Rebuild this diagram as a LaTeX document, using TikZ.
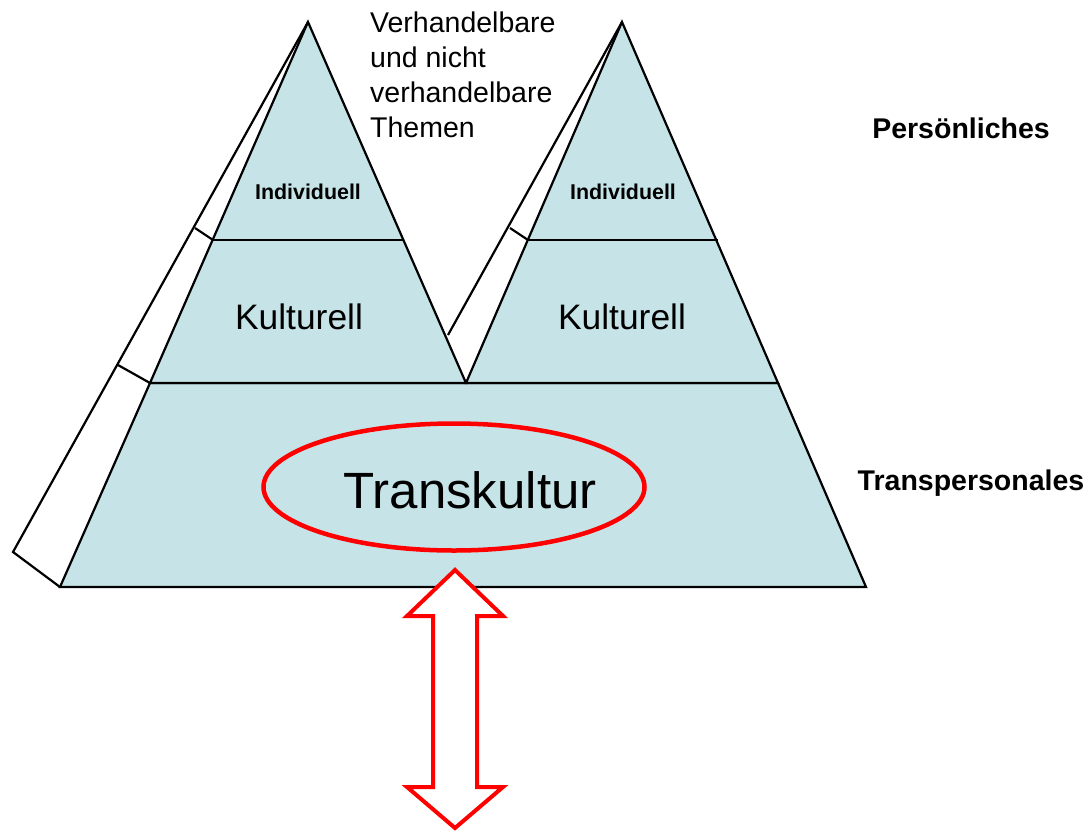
\documentclass[tikz,border=0pt]{standalone}
\usepackage{fontspec}
\setmainfont{Liberation Sans}
\usepackage{tikz}
\usetikzlibrary{shapes.geometric}

\definecolor{pyrblue}{RGB}{198,228,232}

\begin{document}
\begin{tikzpicture}[x=1pt, y=-1pt,
  layer/.style={draw, fill=pyrblue, line width=2.2pt, line join=miter},
  strip/.style={draw, line width=2.2pt},
  big/.style={font=\fontsize{35.4}{42}\selectfont, inner sep=0pt},
  small/.style={font=\bfseries\fontsize{21.4}{26}\selectfont, inner sep=0pt},
  side/.style={font=\bfseries\fontsize{28.5}{34}\selectfont, inner sep=0pt},
  ring/.style={ellipse, draw=red, line width=4.5pt, minimum width=381pt, minimum height=127pt, inner sep=0pt},
  updown/.style={draw=red, fill=white, line width=4pt, line join=miter}]
\useasboundingbox (0,0) rectangle (1089,833);

\coordinate (apexL) at (308,22);
\coordinate (apexR) at (622,22);
\coordinate (baseL) at (60,587);
\coordinate (baseR) at (866,587);
\coordinate (midL) at (150,383);
\coordinate (midR) at (778,383);
\coordinate (valley) at (466,383);
\coordinate (indLl) at (213,240);
\coordinate (indLr) at (403,240);
\coordinate (indRl) at (528,240);
\coordinate (indRr) at (718,240);

% side strips
\coordinate (outL) at (13,552);
\coordinate (outR) at (448,335);
\draw[strip] (apexL) -- (outL) -- (baseL);
\draw[strip] (118,365) -- (midL);
\draw[strip] (195,228) -- (indLl);
\draw[strip] (apexR) -- (outR);
\draw[strip] (510,228) -- (indRl);

% pyramids
\path[layer] (baseL) -- (baseR) -- (midR) -- (midL) -- cycle;
\path[layer] (apexL) -- (midL) -- (valley) -- cycle;
\path[layer] (apexR) -- (valley) -- (midR) -- cycle;
\draw[strip] (indLl) -- (indLr);
\draw[strip] (indRl) -- (indRr);

% labels
\node[small] (indivL) at (308,192) {Individuell};
\node[small] (indivR) at (623,192) {Individuell};
\node[big] (kultL) at (299,317) {Kulturell};
\node[big] (kultR) at (622,317) {Kulturell};
\node[ring] (ring) at (454,487) {};
\node[font=\fontsize{51}{60}\selectfont, inner sep=0pt] (trans) at (470,490) {Transkultur};
\node[font=\fontsize{28.5}{35}\selectfont, inner sep=0pt, anchor=north west, align=left] (themen) at (370,12)
  {Verhandelbare\\und nicht\\verhandelbare\\Themen};
\node[side] (pers) at (961,128) {Persönliches};
\node[side] (transp) at (971,483) {Transpersonales};

% double arrow
\path[updown] (455,570) -- (503,616) -- (477,616) -- (477,787) -- (503,787) -- (455,828)
  -- (407,787) -- (433,787) -- (433,616) -- (407,616) -- cycle;
\end{tikzpicture}
\end{document}
